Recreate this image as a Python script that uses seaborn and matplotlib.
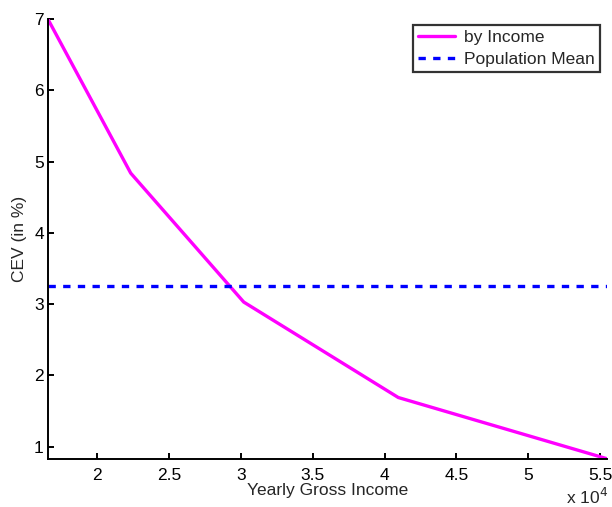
import matplotlib
matplotlib.use("Agg")
import matplotlib.pyplot as plt
import seaborn as sns
import pandas as pd
from matplotlib.ticker import FuncFormatter, MultipleLocator

income = [16560, 22320, 30190, 40950, 55490]
cev = [7.0, 4.84, 3.03, 1.69, 0.83]
pop_mean = 3.254
xlim = (16560, 55490)

sns.set_style("white")
plt.rcParams['font.family'] = ['Liberation Sans', 'DejaVu Sans']
FS = 12.5
plt.rcParams['font.size'] = FS

fig = plt.figure(figsize=(6.12, 5.07), dpi=100)
ax = fig.add_axes([0.0784, 0.0947, 0.9136, 0.8673])

df = pd.DataFrame({"income": income, "cev": cev})
sns.lineplot(data=df, x="income", y="cev", ax=ax, color="#ff00ff", lw=2.4,
             label="by Income")
dfm = pd.DataFrame({"income": list(xlim), "cev": [pop_mean, pop_mean]})
sns.lineplot(data=dfm, x="income", y="cev", ax=ax, color="#0000ff", lw=2.4,
             linestyle=(0, (2.2, 2.2)), label="Population Mean")

ax.set_xlim(*xlim)
ax.set_ylim(0.827, 7.0)
ax.xaxis.set_major_locator(MultipleLocator(5000))
ax.yaxis.set_major_locator(MultipleLocator(1))
ax.xaxis.set_major_formatter(FuncFormatter(lambda v, p: f"{v/1e4:g}"))
ax.tick_params(direction="in", length=4, width=1.4, labelsize=FS, colors="black",
               bottom=True, left=True)
ax.tick_params(axis="x", pad=6.5)
ax.tick_params(axis="y", pad=3)
for s in ["top", "right"]:
    ax.spines[s].set_visible(False)
for s in ["left", "bottom"]:
    ax.spines[s].set_linewidth(1.4)
    ax.spines[s].set_color("black")

ax.set_xlabel("Yearly Gross Income", fontsize=FS, labelpad=0)
ax.set_ylabel("CEV (in %)", fontsize=FS, labelpad=5)
fig.text(0.925, 0.006, r"x 10$^{4}$", fontsize=FS)

leg = ax.legend(loc="upper right", bbox_to_anchor=(0.9875, 0.988), frameon=True,
                fancybox=False, fontsize=FS, handlelength=2.13, borderpad=0.3,
                labelspacing=0.4, handletextpad=0.5, borderaxespad=0)
leg.get_frame().set_edgecolor("black")
leg.get_frame().set_linewidth(1.6)

fig.savefig("out.png", dpi=100)
